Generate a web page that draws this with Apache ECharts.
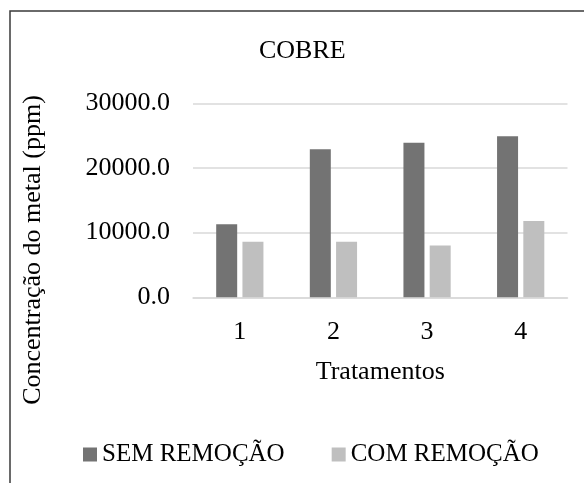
<!DOCTYPE html>
<html>
<head>
<meta charset="utf-8">
<script src="https://cdn.jsdelivr.net/npm/echarts@6/dist/echarts.min.js"></script>
<style>
html,body{margin:0;padding:0;background:#fff;}
#chart{width:584px;height:483px;}
</style>
</head>
<body>
<div id="chart"></div>
<script>
const categories = ['1', '2', '3', '4'];
const semRemocao = [11300, 22900, 23900, 24900];
const comRemocao = [8600, 8600, 8000, 11800];
const seriesNames = ['SEM REMOÇÃO', 'COM REMOÇÃO'];
const chartTitle = 'COBRE';
const xAxisTitle = 'Tratamentos';
const yAxisTitle = 'Concentração do metal (ppm)';

const FONT = '"Liberation Serif", "Times New Roman", serif';
const chart = echarts.init(document.getElementById('chart'), null, {renderer: 'canvas'});
chart.setOption({
  animation: false,
  backgroundColor: '#fff',
  textStyle: {fontFamily: FONT, color: '#000'},
  title: {
    text: chartTitle,
    left: 259,
    top: 38,
    padding: 0,
    textStyle: {fontFamily: FONT, fontSize: 26, fontWeight: 'normal', color: '#000'}
  },
  graphic: [
    {
      type: 'rect',
      shape: {x: 10, y: 11, width: 620, height: 520},
      style: {fill: 'none', stroke: '#3a3a3a', lineWidth: 1.5},
      silent: true
    },
    {
      type: 'text',
      x: 33,
      y: 250,
      rotation: Math.PI / 2,
      style: {
        text: yAxisTitle,
        font: '26px ' + FONT,
        fill: '#000',
        align: 'center',
        verticalAlign: 'middle'
      }
    }
  ],
  legend: {
    data: seriesNames,
    left: 83,
    top: 442,
    padding: 0,
    itemWidth: 14,
    itemHeight: 14,
    itemGap: 47,
    icon: 'rect',
    textStyle: {fontFamily: FONT, fontSize: 25, color: '#000'}
  },
  grid: {left: 193, right: 16.5, top: 103.3, bottom: 185.7, containLabel: false},
  xAxis: {
    type: 'category',
    data: categories,
    axisLine: {show: true, lineStyle: {color: '#d9d9d9', width: 1.5}},
    axisTick: {show: false},
    axisLabel: {fontFamily: FONT, fontSize: 26, color: '#000', margin: 22},
    name: xAxisTitle,
    nameLocation: 'middle',
    nameGap: 62,
    nameTextStyle: {fontFamily: FONT, fontSize: 26, color: '#000'}
  },
  yAxis: {
    type: 'value',
    min: 0,
    max: 30000,
    interval: 10000,
    axisLine: {show: false},
    axisTick: {show: false},
    axisLabel: {
      fontFamily: FONT, fontSize: 26, color: '#000', margin: 23,
      formatter: v => v.toFixed(1)
    },
    splitLine: {lineStyle: {color: '#d9d9d9', width: 1.5}}
  },
  series: [
    {
      name: seriesNames[0],
      type: 'bar',
      data: semRemocao,
      barWidth: 21,
      barGap: '25%',
      itemStyle: {color: '#737373'}
    },
    {
      name: seriesNames[1],
      type: 'bar',
      data: comRemocao,
      barWidth: 21,
      itemStyle: {color: '#bfbfbf'}
    }
  ]
});
</script>
</body>
</html>
